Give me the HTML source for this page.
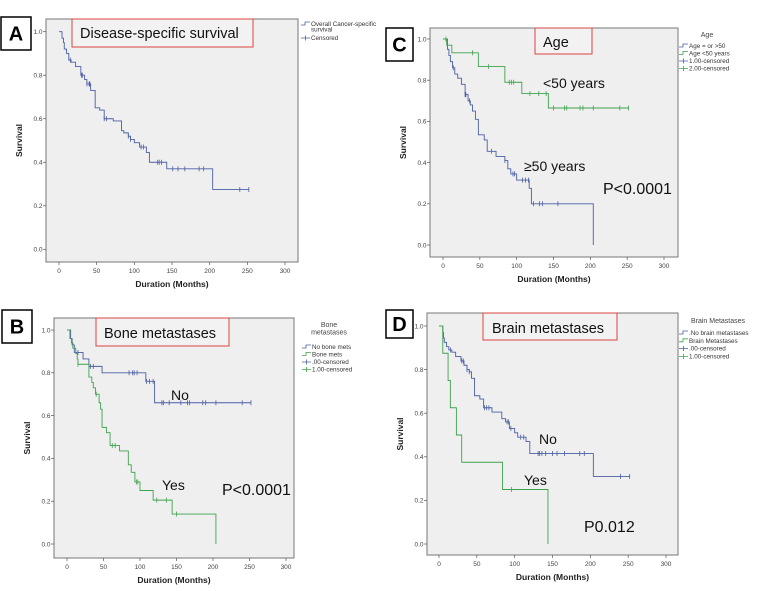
<!DOCTYPE html>
<html><head><meta charset="utf-8"><style>
body{margin:0;background:#fff;width:777px;height:591px;overflow:hidden}
svg{display:block}
text{font-family:"Liberation Sans",sans-serif}
</style></head><body>
<svg id="fig" width="777" height="591" viewBox="0 0 777 591"></svg>
<script>
// Panel A
const aTimes=[0,2,4,6,7,10,13,16,22,29,34,37,42,48,54,60,72,83,86,92,95,100,107,116,120,143,204];
const aSurv=[1,1,0.97,0.95,0.92,0.90,0.87,0.86,0.84,0.80,0.78,0.76,0.73,0.65,0.64,0.60,0.59,0.545,0.535,0.52,0.505,0.49,0.47,0.445,0.40,0.37,0.275];
const aEnd=252;
const aCens=[15,30,31,37,40,41,60,63,92,95,109,112,131,133,136,151,158,167,186,192,240,252];
// Panel C
const cOldTimes=[0,4,6,8,10,13,16,20,25,30,34,37,40,44,48,56,60,72,84,88,92,100,117,120,204];
const cOldSurv=[1,1,0.95,0.92,0.89,0.86,0.83,0.81,0.78,0.73,0.70,0.68,0.65,0.61,0.535,0.51,0.455,0.43,0.41,0.37,0.345,0.315,0.275,0.20,0];
const cOldEnd=204;
const cOldCens=[14,30,31,36,66,84,95,97,108,112,116,123,131,135,156];
const cYoungTimes=[0,5,12,48,84,107,143];
const cYoungSurv=[1,0.97,0.933,0.866,0.79,0.735,0.665];
const cYoungEnd=252;
const cYoungCens=[4,40,62,90,93,96,118,130,140,150,165,168,186,190,204,240,252];
// Panel B
const bNoTimes=[0,3,5,7,10,22,30,48,108,120];
const bNoSurv=[1,1,0.96,0.93,0.895,0.865,0.83,0.80,0.76,0.66];
const bNoEnd=252;
const bNoCens=[15,32,36,85,90,92,96,109,113,118,130,132,140,156,165,168,186,190,204,240,252];
const bYesTimes=[0,3,4,6,8,12,14,15,30,34,36,39,44,46,48,54,59,72,84,88,93,100,118,144,204];
const bYesSurv=[1,1,0.96,0.94,0.915,0.89,0.865,0.84,0.78,0.755,0.73,0.70,0.66,0.63,0.545,0.52,0.46,0.435,0.37,0.335,0.29,0.25,0.205,0.14,0];
const bYesEnd=204;
const bYesCens=[15,40,62,66,95,97,123,136,150];
// Panel D
const dNoTimes=[0,4,5,6,7,10,13,17,22,29,33,37,40,43,47,54,59,70,83,88,93,100,104,115,120,204];
const dNoSurv=[1,1,0.97,0.945,0.925,0.905,0.89,0.88,0.86,0.84,0.82,0.80,0.79,0.76,0.68,0.665,0.625,0.605,0.575,0.56,0.53,0.51,0.49,0.47,0.415,0.31];
const dNoEnd=252;
const dNoCens=[15,30,32,37,40,60,63,66,90,92,95,108,112,131,133,136,141,150,156,166,186,192,240,252];
const dYesTimes=[0,3,5,12,15,23,30,84,144];
const dYesSurv=[1,1,0.875,0.75,0.625,0.50,0.375,0.25,0];
const dYesEnd=144;
const dYesCens=[96];
const xTicks=[0,50,100,150,200,250,300];
const yTicks=[0,0.2,0.4,0.6,0.8,1.0];

const NS="http://www.w3.org/2000/svg";
const svg=document.getElementById('fig');
const BLUE="#4b5ea6", GREEN="#3fa34d";
function mk(tag,attrs,parent){const e=document.createElementNS(NS,tag);for(const k in attrs)e.setAttribute(k,attrs[k]);(parent||svg).appendChild(e);return e;}
function txt(s,attrs,parent){const t=mk('text',attrs,parent);t.textContent=s;return t;}

function panel(p){
  const g=mk('g',{});
  
  
  const fr=mk('rect',{x:p.fx0,y:p.fy0,width:p.fx1-p.fx0,height:p.fy1-p.fy0,fill:'#efefef',stroke:'#777','stroke-width':1},g);
  
  
  const X=t=>p.x0+(p.x300-p.x0)*t/300;
  const Y=s=>p.y0+(p.y1-p.y0)*s;
  xTicks.forEach(v=>{
    mk('line',{x1:X(v),x2:X(v),y1:p.fy1,y2:p.fy1+3,stroke:'#555','stroke-width':0.7},g);
    const t=txt(String(v),{x:X(v),y:p.fy1+11,'font-size':6.5,fill:'#444','text-anchor':'middle'},g);
    
    
  });
  yTicks.forEach(v=>{
    mk('line',{x1:p.fx0-3,x2:p.fx0,y1:Y(v),y2:Y(v),stroke:'#555','stroke-width':0.7},g);
    const t=txt(v.toFixed(1),{x:p.fx0-3.5,y:Y(v)+2.3,'font-size':6.5,fill:'#444','text-anchor':'end'},g);
    
    
  });
  const xt=txt('Duration (Months)',{x:(p.fx0+p.fx1)/2,y:p.fy1+25,'font-size':8.5,'font-weight':'bold',fill:'#222','text-anchor':'middle'},g);
  
  
  const yx=p.fx0-24, yy=(p.fy0+p.fy1)/2;
  const yt=txt('Survival',{x:yx,y:yy,'font-size':8.5,'font-weight':'bold',fill:'#222','text-anchor':'middle',transform:`rotate(-90 ${yx} ${yy})`},g);
  
  
  p.series.forEach(s=>{
    let d=`M${X(s.t[0])},${Y(s.s[0])}`;
    for(let i=1;i<s.t.length;i++){d+=` H${X(s.t[i])} V${Y(s.s[i])}`;}
    d+=` H${X(s.end)}`;
    const path=mk('path',{d:d,fill:'none',stroke:s.c,'stroke-width':0.9},g);
    
    
    s.cens.forEach(c=>{
      let v=s.s[0];
      for(let i=0;i<s.t.length;i++){if(s.t[i]<=c)v=s.s[i];}
      const m=mk('path',{d:`M${X(c)},${Y(v)-2.5} V${Y(v)+2.5}`,stroke:s.c,'stroke-width':0.8},g);
      
      
    });
  });
  const lb=mk('rect',{x:p.lb[0],y:p.lb[1],width:p.lb[2],height:p.lb[3],fill:'#fff',stroke:'#000','stroke-width':1.5},g);
  
  
  const lt=txt(p.id,{x:p.lb[0]+p.lb[2]/2,y:p.lb[1]+p.lb[3]/2+7,'font-size':20,'font-weight':'bold','text-anchor':'middle'},g);
  
  
  const tb=mk('rect',{x:p.tb[0],y:p.tb[1],width:p.tb[2],height:p.tb[3],fill:'#f2f2f2',stroke:'#d9443f','stroke-width':1},g);
  
  
  const tt=txt(p.title,{x:p.tx[0],y:p.tx[1],'font-size':14.5,fill:'#111'},g);
  
  
  p.ann.forEach(a=>{
    const t=txt(a[0],{x:a[1],y:a[2],'font-size':a[3],fill:'#111'},g);
    
    
  });
  const lg=mk('g',{},g);
  
  
  p.legTitle.forEach((l,i)=>{
    txt(l,{x:p.legTitleX,y:p.legTitleY+i*7.5,'font-size':7,fill:'#444','text-anchor':'middle'},lg);
  });
  p.leg.forEach((e,i)=>{
    const y=p.legY+i*p.legDy, x=p.legX;
    if(e[1]==='line'){
      mk('path',{d:`M${x},${y+1} H${x+4} V${y-2} H${x+9}`,fill:'none',stroke:e[2],'stroke-width':0.8},lg);
    } else {
      mk('path',{d:`M${x},${y} H${x+9} M${x+4.5},${y-2.5} V${y+2.5}`,stroke:e[2],'stroke-width':0.8},lg);
    }
    const t=txt(e[0],{x:x+10,y:y+2,'font-size':6.3,fill:'#333'},lg);
    
    
  });
}

panel({id:'A',fx0:46,fx1:298,fy0:19,fy1:262,x0:59,x300:285,y0:249.3,y1:31.7,
  lb:[1,17,30,33],tb:[72,19,181,28],title:'Disease-specific survival',tx:[80,38],
  ann:[],legTitle:[],legTitleX:0,legTitleY:0,legX:301,legY:24,legDy:14,
  leg:[['Overall Cancer-specific','line',BLUE],['Censored','cens',BLUE]],
  series:[{name:'overall',t:aTimes,s:aSurv,end:aEnd,cens:aCens,c:BLUE}]});
(function(){const t=txt('survival',{x:311,y:31.5,'font-size':6.3,fill:'#333'});})();

panel({id:'C',fx0:430,fx1:678,fy0:28,fy1:257,x0:443,x300:664,y0:245,y1:39,
  lb:[386,28,27,33],tb:[535,28,57,26],title:'Age',tx:[543,47],
  ann:[['<50 years',543,88,14],['≥50 years',524,171,14],['P<0.0001',603,194,16]],
  legTitle:['Age'],legTitleX:707,legTitleY:37,legX:679,legY:46,legDy:7.5,
  leg:[['Age = or >50','line',BLUE],['Age <50 years','line',GREEN],['1.00-censored','cens',BLUE],['2.00-censored','cens',GREEN]],
  series:[{name:'age-50-plus',t:cOldTimes,s:cOldSurv,end:cOldEnd,cens:cOldCens,c:BLUE},
          {name:'age-under-50',t:cYoungTimes,s:cYoungSurv,end:cYoungEnd,cens:cYoungCens,c:GREEN}]});

panel({id:'B',fx0:54,fx1:294,fy0:318,fy1:558,x0:67,x300:286,y0:544,y1:330,
  lb:[2,310,30,33],tb:[96,318,133,28],title:'Bone metastases',tx:[104,338],
  ann:[['No',171,400,14],['Yes',162,490,14],['P<0.0001',222,495,16]],
  legTitle:['Bone','metastases'],legTitleX:329,legTitleY:327,legX:302,legY:347,legDy:7.5,
  leg:[['No bone mets','line',BLUE],['Bone mets','line',GREEN],['.00-censored','cens',BLUE],['1.00-censored','cens',GREEN]],
  series:[{name:'no-bone-mets',t:bNoTimes,s:bNoSurv,end:bNoEnd,cens:bNoCens,c:BLUE},
          {name:'bone-mets',t:bYesTimes,s:bYesSurv,end:bYesEnd,cens:bYesCens,c:GREEN}]});

panel({id:'D',fx0:427,fx1:678,fy0:313,fy1:555,x0:439,x300:666,y0:544,y1:326,
  lb:[386,310,27,28],tb:[483,313,134,27],title:'Brain metastases',tx:[492,333],
  ann:[['No',539,444,14],['Yes',524,485,14],['P0.012',584,532,16]],
  legTitle:['Brain Metastases'],legTitleX:718,legTitleY:323,legX:679,legY:333,legDy:7.8,
  leg:[['.No brain metastases','line',BLUE],['Brain Metastases','line',GREEN],['.00-censored','cens',BLUE],['1.00-censored','cens',GREEN]],
  series:[{name:'no-brain-mets',t:dNoTimes,s:dNoSurv,end:dNoEnd,cens:dNoCens,c:BLUE},
          {name:'brain-mets',t:dYesTimes,s:dYesSurv,end:dYesEnd,cens:dYesCens,c:GREEN}]});
</script>
</body></html>
